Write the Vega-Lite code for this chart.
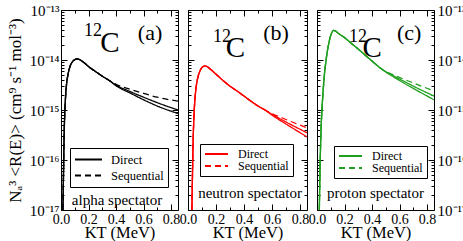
{
  "$schema": "https://vega.github.io/schema/vega-lite/v6.json",
  "padding": {"left": 5, "right": 2, "top": 2, "bottom": 1},
  "background": "white",
  "bounds": "flush",
  "spacing": 10,
  "config": {
    "view": {"stroke": "black", "strokeWidth": 1},
    "axis": {"minExtent": 0, "domain": false, "grid": false, "tickColor": "black", "tickWidth": 1, "labelColor": "black", "labelFont": "Liberation Serif", "labelFontSize": 14, "titleFont": "Liberation Serif", "titleFontWeight": "normal", "titleColor": "black", "labelFlush": false, "labelOverlap": false},
    "axisY": {"minExtent": 0},
    "axisX": {"minExtent": 0},
    "text": {"font": "Liberation Serif", "color": "black"}
  },
  "resolve": {"scale": {"strokeDash": "independent"}, "legend": {"strokeDash": "independent"}},
  "datasets": {
    "curves": [
      {"p":"a","x":0.012,"D1":4e-18,"D2":4e-18,"S":4e-18},
      {"p":"a","x":0.014,"D1":1e-17,"D2":1e-17,"S":1e-17},
      {"p":"a","x":0.018,"D1":5e-17,"D2":5e-17,"S":5e-17},
      {"p":"a","x":0.022,"D1":2.5e-16,"D2":2.5e-16,"S":2.5e-16},
      {"p":"a","x":0.027,"D1":8e-16,"D2":8e-16,"S":8e-16},
      {"p":"a","x":0.033,"D1":1.8e-15,"D2":1.8e-15,"S":1.8e-15},
      {"p":"a","x":0.04,"D1":3.2e-15,"D2":3.2e-15,"S":3.2e-15},
      {"p":"a","x":0.05,"D1":5e-15,"D2":5e-15,"S":5e-15},
      {"p":"a","x":0.06,"D1":6.6e-15,"D2":6.6e-15,"S":6.6e-15},
      {"p":"a","x":0.07,"D1":8e-15,"D2":8e-15,"S":8e-15},
      {"p":"a","x":0.08,"D1":9e-15,"D2":9e-15,"S":9e-15},
      {"p":"a","x":0.09,"D1":9.7e-15,"D2":9.7e-15,"S":9.7e-15},
      {"p":"a","x":0.1,"D1":1.02e-14,"D2":1.02e-14,"S":1.02e-14},
      {"p":"a","x":0.115,"D1":1.05e-14,"D2":1.05e-14,"S":1.05e-14},
      {"p":"a","x":0.13,"D1":1.03e-14,"D2":1.03e-14,"S":1.03e-14},
      {"p":"a","x":0.15,"D1":9.6e-15,"D2":9.6e-15,"S":9.6e-15},
      {"p":"a","x":0.175,"D1":8.5e-15,"D2":8.5e-15,"S":8.5e-15},
      {"p":"a","x":0.2,"D1":7.4e-15,"D2":7.4e-15,"S":7.4e-15},
      {"p":"a","x":0.25,"D1":5.9e-15,"D2":5.9e-15,"S":5.9e-15},
      {"p":"a","x":0.3,"D1":4.75e-15,"D2":4.75e-15,"S":4.75e-15},
      {"p":"a","x":0.35,"D1":3.9e-15,"D2":3.9e-15,"S":3.9e-15},
      {"p":"a","x":0.4,"D1":3.15e-15,"D2":3.05e-15,"S":3.25e-15},
      {"p":"a","x":0.5,"D1":2.35e-15,"D2":2.2e-15,"S":2.6e-15},
      {"p":"a","x":0.6,"D1":1.8e-15,"D2":1.6e-15,"S":2.15e-15},
      {"p":"a","x":0.7,"D1":1.4e-15,"D2":1.2e-15,"S":1.8e-15},
      {"p":"a","x":0.85,"D1":1e-15,"D2":8.5e-16,"S":1.5e-15},

      {"p":"b","x":0.026,"D1":4e-18,"D2":4e-18,"S":4e-18},
      {"p":"b","x":0.028,"D1":1e-17,"D2":1e-17,"S":1e-17},
      {"p":"b","x":0.032,"D1":5e-17,"D2":5e-17,"S":5e-17},
      {"p":"b","x":0.036,"D1":2e-16,"D2":2e-16,"S":2e-16},
      {"p":"b","x":0.041,"D1":6e-16,"D2":6e-16,"S":6e-16},
      {"p":"b","x":0.047,"D1":1.3e-15,"D2":1.3e-15,"S":1.3e-15},
      {"p":"b","x":0.055,"D1":2.4e-15,"D2":2.4e-15,"S":2.4e-15},
      {"p":"b","x":0.065,"D1":3.8e-15,"D2":3.8e-15,"S":3.8e-15},
      {"p":"b","x":0.075,"D1":5e-15,"D2":5e-15,"S":5e-15},
      {"p":"b","x":0.085,"D1":6e-15,"D2":6e-15,"S":6e-15},
      {"p":"b","x":0.095,"D1":6.8e-15,"D2":6.8e-15,"S":6.8e-15},
      {"p":"b","x":0.105,"D1":7.3e-15,"D2":7.3e-15,"S":7.3e-15},
      {"p":"b","x":0.12,"D1":7.6e-15,"D2":7.6e-15,"S":7.6e-15},
      {"p":"b","x":0.135,"D1":7.4e-15,"D2":7.4e-15,"S":7.4e-15},
      {"p":"b","x":0.15,"D1":6.9e-15,"D2":6.9e-15,"S":6.9e-15},
      {"p":"b","x":0.2,"D1":5.2e-15,"D2":5.2e-15,"S":5.2e-15},
      {"p":"b","x":0.25,"D1":3.9e-15,"D2":3.9e-15,"S":3.9e-15},
      {"p":"b","x":0.3,"D1":3e-15,"D2":3e-15,"S":3e-15},
      {"p":"b","x":0.35,"D1":2.4e-15,"D2":2.4e-15,"S":2.4e-15},
      {"p":"b","x":0.4,"D1":1.9e-15,"D2":1.9e-15,"S":1.9e-15},
      {"p":"b","x":0.45,"D1":1.5e-15,"D2":1.5e-15,"S":1.5e-15},
      {"p":"b","x":0.5,"D1":1.2e-15,"D2":1.2e-15,"S":1.2e-15},
      {"p":"b","x":0.55,"D1":1e-15,"D2":1e-15,"S":1e-15},
      {"p":"b","x":0.6,"D1":8.2e-16,"D2":7.9e-16,"S":8.5e-16},
      {"p":"b","x":0.7,"D1":5.75e-16,"D2":5.25e-16,"S":6.45e-16},
      {"p":"b","x":0.85,"D1":3.5e-16,"D2":2.9e-16,"S":4.4e-16},

      {"p":"c","x":0.015,"D1":4e-18,"D2":4e-18,"S":4e-18},
      {"p":"c","x":0.017,"D1":1e-17,"D2":1e-17,"S":1e-17},
      {"p":"c","x":0.021,"D1":5e-17,"D2":5e-17,"S":5e-17},
      {"p":"c","x":0.025,"D1":1.5e-16,"D2":1.5e-16,"S":1.5e-16},
      {"p":"c","x":0.03,"D1":4.5e-16,"D2":4.5e-16,"S":4.5e-16},
      {"p":"c","x":0.036,"D1":1e-15,"D2":1e-15,"S":1e-15},
      {"p":"c","x":0.045,"D1":2.5e-15,"D2":2.5e-15,"S":2.5e-15},
      {"p":"c","x":0.055,"D1":5.5e-15,"D2":5.5e-15,"S":5.5e-15},
      {"p":"c","x":0.065,"D1":9.5e-15,"D2":9.5e-15,"S":9.5e-15},
      {"p":"c","x":0.075,"D1":1.5e-14,"D2":1.5e-14,"S":1.5e-14},
      {"p":"c","x":0.085,"D1":2.1e-14,"D2":2.1e-14,"S":2.1e-14},
      {"p":"c","x":0.095,"D1":2.8e-14,"D2":2.8e-14,"S":2.8e-14},
      {"p":"c","x":0.105,"D1":3.4e-14,"D2":3.4e-14,"S":3.4e-14},
      {"p":"c","x":0.12,"D1":3.9e-14,"D2":3.9e-14,"S":3.9e-14},
      {"p":"c","x":0.135,"D1":3.8e-14,"D2":3.8e-14,"S":3.8e-14},
      {"p":"c","x":0.15,"D1":3.5e-14,"D2":3.5e-14,"S":3.5e-14},
      {"p":"c","x":0.2,"D1":2.8e-14,"D2":2.8e-14,"S":2.8e-14},
      {"p":"c","x":0.25,"D1":2.15e-14,"D2":2.15e-14,"S":2.15e-14},
      {"p":"c","x":0.3,"D1":1.65e-14,"D2":1.65e-14,"S":1.65e-14},
      {"p":"c","x":0.35,"D1":1.25e-14,"D2":1.25e-14,"S":1.25e-14},
      {"p":"c","x":0.4,"D1":9.5e-15,"D2":9.5e-15,"S":9.5e-15},
      {"p":"c","x":0.47,"D1":6.6e-15,"D2":6.6e-15,"S":6.6e-15},
      {"p":"c","x":0.6,"D1":4.17e-15,"D2":3.89e-15,"S":4.47e-15},
      {"p":"c","x":0.7,"D1":3e-15,"D2":2.7e-15,"S":3.47e-15},
      {"p":"c","x":0.85,"D1":1.9e-15,"D2":1.6e-15,"S":2.4e-15}
    ],
    "one": [{}]
  },
  "hconcat": [
    {
      "width": 117, "height": 200,
      "resolve": {"axis": {"x": "independent", "y": "independent"}},
      "layer": [
        {
          "data": {"name": "curves"},
          "transform": [{"filter": "datum.p == 'a'"}, {"fold": ["D1", "D2", "S"], "as": ["series", "y"]}],
          "mark": {"type": "line", "color": "black", "strokeWidth": 1.3, "clip": true, "interpolate": "monotone"},
          "encoding": {
            "x": {"field": "x", "type": "quantitative", "scale": {"domain": [0, 0.85], "nice": false, "zero": false},
                  "axis": {"orient": "bottom", "values": [0, 0.2, 0.4, 0.6, 0.8], "tickSize": -6, "labelPadding": 8, "title": "KT (MeV)", "titleFontSize": 16.5, "titlePadding": -2}},
            "y": {"field": "y", "type": "quantitative", "scale": {"type": "log", "domain": [1e-17, 1e-13], "nice": false},
                  "axis": {"orient": "left", "values": [1e-17, 1e-16, 1e-15, 1e-14, 1e-13], "tickSize": -6, "labelPadding": 8, "labelFontSize": 15,
                           "labelExpr": "datum.value > 5e-14 ? '10⁻¹³' : datum.value > 5e-15 ? '10⁻¹⁴' : datum.value > 5e-16 ? '10⁻¹⁵' : datum.value > 5e-17 ? '10⁻¹⁶' : '10⁻¹⁷'",
                           "title": "Nₐ³ <R(E)> (cm⁹ s⁻¹ mol⁻³)", "titleFontSize": 17, "titlePadding": 5}},
            "strokeDash": {"field": "series", "type": "nominal", "scale": {"domain": ["D1", "D2", "S"], "range": [[1, 0], [1, 0], [6, 4]]},
                           "legend": {"orient": "none", "legendX": 9, "legendY": 138, "title": null, "values": ["D1", "S"], "labelExpr": "datum.label == 'S' ? 'Sequential' : 'Direct'",
                                      "symbolType": "stroke", "symbolSize": 729, "symbolStrokeWidth": 1.8, "symbolStrokeColor": "black", "clipHeight": 15,
                                      "labelFont": "Liberation Serif", "labelFontSize": 12.5, "labelColor": "black", "labelOffset": 8,
                                      "strokeColor": "black", "fillColor": "white", "padding": 4, "rowPadding": 1, "direction": "vertical"}}
          }
        },
        {
          "data": {"name": "one"},
          "mark": {"type": "text", "text": "12", "fontSize": 18, "baseline": "middle", "align": "center"},
          "encoding": {
            "x": {"datum": 0.233, "type": "quantitative", "scale": {"domain": [0, 0.85], "nice": false, "zero": false},
                  "axis": {"orient": "top", "values": [0, 0.2, 0.4, 0.6, 0.8], "tickSize": -6, "labels": false, "title": null}},
            "y": {"datum": 3.8e-14, "type": "quantitative", "scale": {"type": "log", "domain": [1e-17, 1e-13], "nice": false},
                  "axis": {"orient": "right", "values": [1e-17, 1e-16, 1e-15, 1e-14, 1e-13], "tickSize": -6, "labels": false, "title": null}}
          }
        },
        {
          "data": {"name": "one"},
          "mark": {"type": "text", "text": "C", "fontSize": 29, "baseline": "middle", "align": "center"},
          "encoding": {
            "x": {"datum": 0.356, "type": "quantitative", "scale": {"domain": [0, 0.85], "nice": false, "zero": false},
                  "axis": {"orient": "bottom", "values": [0.1, 0.3, 0.5, 0.7], "tickSize": -3, "labels": false, "title": null}},
            "y": {"datum": 2.19e-14, "type": "quantitative", "scale": {"type": "log", "domain": [1e-17, 1e-13], "nice": false},
                  "axis": {"orient": "left", "values": [2e-17,3e-17,4e-17,5e-17,6e-17,7e-17,8e-17,9e-17,2e-16,3e-16,4e-16,5e-16,6e-16,7e-16,8e-16,9e-16,2e-15,3e-15,4e-15,5e-15,6e-15,7e-15,8e-15,9e-15,2e-14,3e-14,4e-14,5e-14,6e-14,7e-14,8e-14,9e-14], "tickSize": -3, "labels": false, "title": null}}
          }
        },
        {
          "data": {"name": "one"},
          "mark": {"type": "text", "text": "(a)", "fontSize": 22, "baseline": "middle", "align": "center"},
          "encoding": {
            "x": {"datum": 0.647, "type": "quantitative", "scale": {"domain": [0, 0.85], "nice": false, "zero": false},
                  "axis": {"orient": "top", "values": [0.1, 0.3, 0.5, 0.7], "tickSize": -3, "labels": false, "title": null}},
            "y": {"datum": 3.47e-14, "type": "quantitative", "scale": {"type": "log", "domain": [1e-17, 1e-13], "nice": false},
                  "axis": {"orient": "right", "values": [2e-17,3e-17,4e-17,5e-17,6e-17,7e-17,8e-17,9e-17,2e-16,3e-16,4e-16,5e-16,6e-16,7e-16,8e-16,9e-16,2e-15,3e-15,4e-15,5e-15,6e-15,7e-15,8e-15,9e-15,2e-14,3e-14,4e-14,5e-14,6e-14,7e-14,8e-14,9e-14], "tickSize": -3, "labels": false, "title": null}}
          }
        },
        {
          "data": {"name": "one"},
          "mark": {"type": "text", "text": "alpha spectator", "fontSize": 15, "baseline": "middle", "align": "center"},
          "encoding": {
            "x": {"datum": 0.407, "type": "quantitative", "scale": {"domain": [0, 0.85], "nice": false, "zero": false}, "axis": null},
            "y": {"datum": 1.58e-17, "type": "quantitative", "scale": {"type": "log", "domain": [1e-17, 1e-13], "nice": false}, "axis": null}
          }
        }
      ]
    },
    {
      "width": 119, "height": 200,
      "resolve": {"axis": {"x": "independent", "y": "independent"}},
      "layer": [
        {
          "data": {"name": "curves"},
          "transform": [{"filter": "datum.p == 'b'"}, {"fold": ["D1", "D2", "S"], "as": ["series", "y"]}],
          "mark": {"type": "line", "color": "#ff0000", "strokeWidth": 1.3, "clip": true, "interpolate": "monotone"},
          "encoding": {
            "x": {"field": "x", "type": "quantitative", "scale": {"domain": [0, 0.85], "nice": false, "zero": false},
                  "axis": {"orient": "bottom", "values": [0, 0.2, 0.4, 0.6, 0.8], "tickSize": -6, "labelPadding": 8, "title": "KT (MeV)", "titleFontSize": 16.5, "titlePadding": -2}},
            "y": {"field": "y", "type": "quantitative", "scale": {"type": "log", "domain": [1e-17, 1e-13], "nice": false},
                  "axis": {"orient": "left", "values": [1e-17, 1e-16, 1e-15, 1e-14, 1e-13], "tickSize": -6, "labels": false, "title": null}},
            "strokeDash": {"field": "series", "type": "nominal", "scale": {"domain": ["D1", "D2", "S"], "range": [[1, 0], [1, 0], [6, 4]]},
                           "legend": {"orient": "none", "legendX": 12, "legendY": 134, "title": null, "values": ["D1", "S"], "labelExpr": "datum.label == 'S' ? 'Sequential' : 'Direct'",
                                      "symbolType": "stroke", "symbolSize": 530, "symbolStrokeWidth": 1.8, "symbolStrokeColor": "#ff0000", "clipHeight": 12,
                                      "labelFont": "Liberation Serif", "labelFontSize": 12, "labelColor": "black", "labelOffset": 9,
                                      "strokeColor": "black", "fillColor": "white", "padding": 4, "rowPadding": 0, "direction": "vertical"}}
          }
        },
        {
          "data": {"name": "one"},
          "mark": {"type": "text", "text": "12", "fontSize": 18, "baseline": "middle", "align": "center"},
          "encoding": {
            "x": {"datum": 0.243, "type": "quantitative", "scale": {"domain": [0, 0.85], "nice": false, "zero": false},
                  "axis": {"orient": "top", "values": [0, 0.2, 0.4, 0.6, 0.8], "tickSize": -6, "labels": false, "title": null}},
            "y": {"datum": 2.88e-14, "type": "quantitative", "scale": {"type": "log", "domain": [1e-17, 1e-13], "nice": false},
                  "axis": {"orient": "right", "values": [1e-17, 1e-16, 1e-15, 1e-14, 1e-13], "tickSize": -6, "labels": false, "title": null}}
          }
        },
        {
          "data": {"name": "one"},
          "mark": {"type": "text", "text": "C", "fontSize": 29, "baseline": "middle", "align": "center"},
          "encoding": {
            "x": {"datum": 0.339, "type": "quantitative", "scale": {"domain": [0, 0.85], "nice": false, "zero": false},
                  "axis": {"orient": "bottom", "values": [0.1, 0.3, 0.5, 0.7], "tickSize": -3, "labels": false, "title": null}},
            "y": {"datum": 1.7e-14, "type": "quantitative", "scale": {"type": "log", "domain": [1e-17, 1e-13], "nice": false},
                  "axis": {"orient": "left", "values": [2e-17,3e-17,4e-17,5e-17,6e-17,7e-17,8e-17,9e-17,2e-16,3e-16,4e-16,5e-16,6e-16,7e-16,8e-16,9e-16,2e-15,3e-15,4e-15,5e-15,6e-15,7e-15,8e-15,9e-15,2e-14,3e-14,4e-14,5e-14,6e-14,7e-14,8e-14,9e-14], "tickSize": -3, "labels": false, "title": null}}
          }
        },
        {
          "data": {"name": "one"},
          "mark": {"type": "text", "text": "(b)", "fontSize": 22, "baseline": "middle", "align": "center"},
          "encoding": {
            "x": {"datum": 0.629, "type": "quantitative", "scale": {"domain": [0, 0.85], "nice": false, "zero": false},
                  "axis": {"orient": "top", "values": [0.1, 0.3, 0.5, 0.7], "tickSize": -3, "labels": false, "title": null}},
            "y": {"datum": 3.47e-14, "type": "quantitative", "scale": {"type": "log", "domain": [1e-17, 1e-13], "nice": false},
                  "axis": {"orient": "right", "values": [2e-17,3e-17,4e-17,5e-17,6e-17,7e-17,8e-17,9e-17,2e-16,3e-16,4e-16,5e-16,6e-16,7e-16,8e-16,9e-16,2e-15,3e-15,4e-15,5e-15,6e-15,7e-15,8e-15,9e-15,2e-14,3e-14,4e-14,5e-14,6e-14,7e-14,8e-14,9e-14], "tickSize": -3, "labels": false, "title": null}}
          }
        },
        {
          "data": {"name": "one"},
          "mark": {"type": "text", "text": "neutron spectator", "fontSize": 15, "baseline": "middle", "align": "center"},
          "encoding": {
            "x": {"datum": 0.443, "type": "quantitative", "scale": {"domain": [0, 0.85], "nice": false, "zero": false}, "axis": null},
            "y": {"datum": 2.19e-17, "type": "quantitative", "scale": {"type": "log", "domain": [1e-17, 1e-13], "nice": false}, "axis": null}
          }
        }
      ]
    },
    {
      "width": 117, "height": 200,
      "resolve": {"axis": {"x": "independent", "y": "independent"}},
      "layer": [
        {
          "data": {"name": "curves"},
          "transform": [{"filter": "datum.p == 'c'"}, {"fold": ["D1", "D2", "S"], "as": ["series", "y"]}],
          "mark": {"type": "line", "color": "#1f9f1f", "strokeWidth": 1.3, "clip": true, "interpolate": "monotone"},
          "encoding": {
            "x": {"field": "x", "type": "quantitative", "scale": {"domain": [0, 0.85], "nice": false, "zero": false},
                  "axis": {"orient": "bottom", "values": [0, 0.2, 0.4, 0.6, 0.8], "tickSize": -6, "labelPadding": 8, "title": "KT (MeV)", "titleFontSize": 16.5, "titlePadding": -2}},
            "y": {"field": "y", "type": "quantitative", "scale": {"type": "log", "domain": [1e-17, 1e-13], "nice": false},
                  "axis": {"orient": "left", "values": [1e-17, 1e-16, 1e-15, 1e-14, 1e-13], "tickSize": -6, "labels": false, "title": null}},
            "strokeDash": {"field": "series", "type": "nominal", "scale": {"domain": ["D1", "D2", "S"], "range": [[1, 0], [1, 0], [6, 4]]},
                           "legend": {"orient": "none", "legendX": 17, "legendY": 136, "title": null, "values": ["D1", "S"], "labelExpr": "datum.label == 'S' ? 'Sequential' : 'Direct'",
                                      "symbolType": "stroke", "symbolSize": 530, "symbolStrokeWidth": 1.8, "symbolStrokeColor": "#1f9f1f", "clipHeight": 12,
                                      "labelFont": "Liberation Serif", "labelFontSize": 12, "labelColor": "black", "labelOffset": 9,
                                      "strokeColor": "black", "fillColor": "white", "padding": 4, "rowPadding": 0, "direction": "vertical"}}
          }
        },
        {
          "data": {"name": "one"},
          "mark": {"type": "text", "text": "12", "fontSize": 18, "baseline": "middle", "align": "center"},
          "encoding": {
            "x": {"datum": 0.298, "type": "quantitative", "scale": {"domain": [0, 0.85], "nice": false, "zero": false},
                  "axis": {"orient": "top", "values": [0, 0.2, 0.4, 0.6, 0.8], "tickSize": -6, "labels": false, "title": null}},
            "y": {"datum": 2.88e-14, "type": "quantitative", "scale": {"type": "log", "domain": [1e-17, 1e-13], "nice": false},
                  "axis": {"orient": "right", "values": [1e-17, 1e-16, 1e-15, 1e-14, 1e-13], "tickSize": -6, "labelPadding": 9, "labelFontSize": 15,
                           "labelExpr": "datum.value > 5e-14 ? '10⁻¹³' : datum.value > 5e-15 ? '10⁻¹⁴' : datum.value > 5e-16 ? '10⁻¹⁵' : datum.value > 5e-17 ? '10⁻¹⁶' : '10⁻¹⁷'", "title": null}}
          }
        },
        {
          "data": {"name": "one"},
          "mark": {"type": "text", "text": "C", "fontSize": 29, "baseline": "middle", "align": "center"},
          "encoding": {
            "x": {"datum": 0.4, "type": "quantitative", "scale": {"domain": [0, 0.85], "nice": false, "zero": false},
                  "axis": {"orient": "bottom", "values": [0.1, 0.3, 0.5, 0.7], "tickSize": -3, "labels": false, "title": null}},
            "y": {"datum": 1.74e-14, "type": "quantitative", "scale": {"type": "log", "domain": [1e-17, 1e-13], "nice": false},
                  "axis": {"orient": "left", "values": [2e-17,3e-17,4e-17,5e-17,6e-17,7e-17,8e-17,9e-17,2e-16,3e-16,4e-16,5e-16,6e-16,7e-16,8e-16,9e-16,2e-15,3e-15,4e-15,5e-15,6e-15,7e-15,8e-15,9e-15,2e-14,3e-14,4e-14,5e-14,6e-14,7e-14,8e-14,9e-14], "tickSize": -3, "labels": false, "title": null}}
          }
        },
        {
          "data": {"name": "one"},
          "mark": {"type": "text", "text": "(c)", "fontSize": 22, "baseline": "middle", "align": "center"},
          "encoding": {
            "x": {"datum": 0.669, "type": "quantitative", "scale": {"domain": [0, 0.85], "nice": false, "zero": false},
                  "axis": {"orient": "top", "values": [0.1, 0.3, 0.5, 0.7], "tickSize": -3, "labels": false, "title": null}},
            "y": {"datum": 3.47e-14, "type": "quantitative", "scale": {"type": "log", "domain": [1e-17, 1e-13], "nice": false},
                  "axis": {"orient": "right", "values": [2e-17,3e-17,4e-17,5e-17,6e-17,7e-17,8e-17,9e-17,2e-16,3e-16,4e-16,5e-16,6e-16,7e-16,8e-16,9e-16,2e-15,3e-15,4e-15,5e-15,6e-15,7e-15,8e-15,9e-15,2e-14,3e-14,4e-14,5e-14,6e-14,7e-14,8e-14,9e-14], "tickSize": -3, "labels": false, "title": null}}
          }
        },
        {
          "data": {"name": "one"},
          "mark": {"type": "text", "text": "proton spectator", "fontSize": 15, "baseline": "middle", "align": "center"},
          "encoding": {
            "x": {"datum": 0.425, "type": "quantitative", "scale": {"domain": [0, 0.85], "nice": false, "zero": false}, "axis": null},
            "y": {"datum": 2.19e-17, "type": "quantitative", "scale": {"type": "log", "domain": [1e-17, 1e-13], "nice": false}, "axis": null}
          }
        }
      ]
    }
  ]
}
